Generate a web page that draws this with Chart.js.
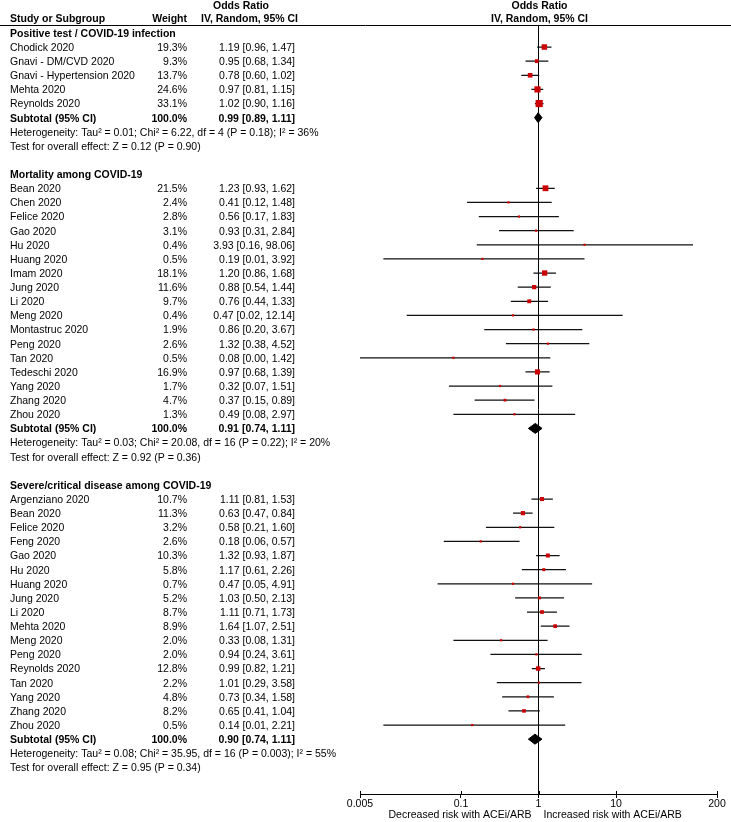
<!DOCTYPE html>
<html>
<head>
<meta charset="utf-8">
<script src="https://cdn.jsdelivr.net/npm/chart.js@4.4.0/dist/chart.umd.min.js"></script>
<style>
html,body{margin:0;padding:0;background:#fff;}
#wrap{width:731px;height:822px;position:relative;}
</style>
</head>
<body>
<div id="wrap"><canvas id="c" width="731" height="822"></canvas></div>
<script>
// ---------- DATA ----------
const sectionTitles = ['Positive test / COVID-19 infection', 'Mortality among COVID-19', 'Severe/critical disease among COVID-19'];

const posStudies = ['Chodick 2020', 'Gnavi - DM/CVD 2020', 'Gnavi - Hypertension 2020', 'Mehta 2020', 'Reynolds 2020'];
const posWeights = [19.3, 9.3, 13.7, 24.6, 33.1];
const posOR   = [1.19, 0.95, 0.78, 0.97, 1.02];
const posLow  = [0.96, 0.68, 0.60, 0.81, 0.90];
const posHigh = [1.47, 1.34, 1.02, 1.15, 1.16];

const mortStudies = ['Bean 2020', 'Chen 2020', 'Felice 2020', 'Gao 2020', 'Hu 2020', 'Huang 2020', 'Imam 2020', 'Jung 2020', 'Li 2020', 'Meng 2020', 'Montastruc 2020', 'Peng 2020', 'Tan 2020', 'Tedeschi 2020', 'Yang 2020', 'Zhang 2020', 'Zhou 2020'];
const mortWeights = [21.5, 2.4, 2.8, 3.1, 0.4, 0.5, 18.1, 11.6, 9.7, 0.4, 1.9, 2.6, 0.5, 16.9, 1.7, 4.7, 1.3];
const mortOR   = [1.23, 0.41, 0.56, 0.93, 3.93, 0.19, 1.20, 0.88, 0.76, 0.47, 0.86, 1.32, 0.08, 0.97, 0.32, 0.37, 0.49];
const mortLow  = [0.93, 0.12, 0.17, 0.31, 0.16, 0.01, 0.86, 0.54, 0.44, 0.02, 0.20, 0.38, 0.004, 0.68, 0.07, 0.15, 0.08];
const mortHigh = [1.62, 1.48, 1.83, 2.84, 98.06, 3.92, 1.68, 1.44, 1.33, 12.14, 3.67, 4.52, 1.42, 1.39, 1.51, 0.89, 2.97];

const sevStudies = ['Argenziano 2020', 'Bean 2020', 'Felice 2020', 'Feng 2020', 'Gao 2020', 'Hu 2020', 'Huang 2020', 'Jung 2020', 'Li 2020', 'Mehta 2020', 'Meng 2020', 'Peng 2020', 'Reynolds 2020', 'Tan 2020', 'Yang 2020', 'Zhang 2020', 'Zhou 2020'];
const sevWeights = [10.7, 11.3, 3.2, 2.6, 10.3, 5.8, 0.7, 5.2, 8.7, 8.9, 2.0, 2.0, 12.8, 2.2, 4.8, 8.2, 0.5];
const sevOR   = [1.11, 0.63, 0.58, 0.18, 1.32, 1.17, 0.47, 1.03, 1.11, 1.64, 0.33, 0.94, 0.99, 1.01, 0.73, 0.65, 0.14];
const sevLow  = [0.81, 0.47, 0.21, 0.06, 0.93, 0.61, 0.05, 0.50, 0.71, 1.07, 0.08, 0.24, 0.82, 0.29, 0.34, 0.41, 0.01];
const sevHigh = [1.53, 0.84, 1.60, 0.57, 1.87, 2.26, 4.91, 2.13, 1.73, 2.51, 1.31, 3.61, 1.21, 3.58, 1.58, 1.04, 2.21];

const subWeights = [100.0, 100.0, 100.0];
const subOR   = [0.99, 0.91, 0.90];
const subLow  = [0.89, 0.74, 0.74];
const subHigh = [1.11, 1.11, 1.11];

const hetTexts = [
  'Heterogeneity: Tau\u00B2 = 0.01; Chi\u00B2 = 6.22, df = 4 (P = 0.18); I\u00B2 = 36%',
  'Heterogeneity: Tau\u00B2 = 0.03; Chi\u00B2 = 20.08, df = 16 (P = 0.22); I\u00B2 = 20%',
  'Heterogeneity: Tau\u00B2 = 0.08; Chi\u00B2 = 35.95, df = 16 (P = 0.003); I\u00B2 = 55%'
];
const overallTexts = [
  'Test for overall effect: Z = 0.12 (P = 0.90)',
  'Test for overall effect: Z = 0.92 (P = 0.36)',
  'Test for overall effect: Z = 0.95 (P = 0.34)'
];

const xTicks = [0.005, 0.1, 1, 10, 200];
const headerLeft = ['Study or Subgroup', 'Weight', 'Odds Ratio', 'IV, Random, 95% CI'];
const headerRight = ['Odds Ratio', 'IV, Random, 95% CI'];
const axisLabels = ['Decreased risk with ACEi/ARB', 'Increased risk with ACEi/ARB'];

// ---------- BUILD ROWS ----------
const sections = [
  {studies: posStudies, w: posWeights, or: posOR, lo: posLow, hi: posHigh},
  {studies: mortStudies, w: mortWeights, or: mortOR, lo: mortLow, hi: mortHigh},
  {studies: sevStudies, w: sevWeights, or: sevOR, lo: sevLow, hi: sevHigh}
];
const rows = [];
let r = 0;
sections.forEach((s, si) => {
  rows.push({type: 'title', row: r, text: sectionTitles[si]});
  s.studies.forEach((name, i) => {
    r++;
    rows.push({type: 'study', row: r, name, w: s.w[i], or: s.or[i], lo: s.lo[i], hi: s.hi[i]});
  });
  r++; rows.push({type: 'sub', row: r, w: subWeights[si], or: subOR[si], lo: subLow[si], hi: subHigh[si]});
  r++; rows.push({type: 'het', row: r, text: hetTexts[si]});
  r++; rows.push({type: 'test', row: r, text: overallTexts[si]});
  r += 2;
});

const fmtCI = (o, l, h) => o.toFixed(2) + ' [' + l.toFixed(2) + ', ' + h.toFixed(2) + ']';

const studyRows = rows.filter(d => d.type === 'study');
const subRows = rows.filter(d => d.type === 'sub');

const pointData = studyRows.map(d => ({x: d.or, y: d.row}));
const pointSize = studyRows.map(d => Math.max(2.2, 1.25 * Math.sqrt(d.w)) / Math.SQRT2);
const ciData = [];
studyRows.forEach(d => { ciData.push({x: d.lo, y: d.row}, {x: d.hi, y: d.row}, {x: 1, y: null}); });

const DIAMOND_H = 0.354;
const diamondSets = subRows.map(d => ({
  type: 'scatter',
  data: [{x: d.lo, y: d.row}, {x: d.or, y: d.row - DIAMOND_H}, {x: d.hi, y: d.row}, {x: d.or, y: d.row + DIAMOND_H}, {x: d.lo, y: d.row}],
  showLine: true, fill: 'shape', backgroundColor: '#000', borderColor: '#000', borderWidth: 1,
  pointRadius: 0, tension: 0
}));

// ---------- TEXT PLUGIN ----------
const FONT = '"Liberation Sans", Arial, sans-serif';
const FS = 10.5;
const textPlugin = {
  id: 'forestText',
  afterDraw(chart) {
    const ctx = chart.ctx;
    const y = chart.scales.y;
    const x = chart.scales.x;
    ctx.save();
    ctx.fillStyle = '#000';
    ctx.textBaseline = 'middle';
    const reg = FS + 'px ' + FONT;
    const bold = 'bold ' + FS + 'px ' + FONT;
    // header
    ctx.font = bold;
    ctx.textAlign = 'left'; ctx.fillText(headerLeft[0], 10, 19);
    ctx.textAlign = 'right'; ctx.fillText(headerLeft[1], 187, 19);
    ctx.textAlign = 'center'; ctx.fillText(headerLeft[2], 241, 6); ctx.fillText(headerLeft[3], 249.5, 19);
    const cx = x.getPixelForValue(1);
    ctx.fillText(headerRight[0], cx + 1, 6); ctx.fillText(headerRight[1], cx + 1, 19);
    // header rule
    ctx.strokeStyle = '#000'; ctx.lineWidth = 1;
    ctx.beginPath(); ctx.moveTo(0, 25.5); ctx.lineTo(731, 25.5); ctx.stroke();
    // rows
    rows.forEach(d => {
      const py = y.getPixelForValue(d.row) + 1;
      if (d.type === 'title') {
        ctx.font = bold; ctx.textAlign = 'left'; ctx.fillText(d.text, 10, py);
      } else if (d.type === 'study') {
        ctx.font = reg; ctx.textAlign = 'left'; ctx.fillText(d.name, 10, py);
        ctx.textAlign = 'right'; ctx.fillText(d.w.toFixed(1) + '%', 187, py);
        ctx.fillText(fmtCI(d.or, d.lo, d.hi), 295, py);
      } else if (d.type === 'sub') {
        ctx.font = bold; ctx.textAlign = 'left'; ctx.fillText('Subtotal (95% CI)', 10, py);
        ctx.textAlign = 'right'; ctx.fillText(d.w.toFixed(1) + '%', 187, py);
        ctx.fillText(fmtCI(d.or, d.lo, d.hi), 295, py);
      } else {
        ctx.font = reg; ctx.textAlign = 'left'; ctx.fillText(d.text, 10, py);
      }
    });
    // small tick marks above axis
    const ay = chart.chartArea.bottom;
    ctx.beginPath();
    xTicks.forEach(v => { const px = Math.round(x.getPixelForValue(v)) + 0.5; ctx.moveTo(px, ay - 3); ctx.lineTo(px, ay); });
    ctx.stroke();
    // axis direction labels
    ctx.font = reg;
    ctx.textAlign = 'right'; ctx.fillText(axisLabels[0], cx - 7, 815);
    ctx.textAlign = 'left'; ctx.fillText(axisLabels[1], cx + 5, 815);
    ctx.restore();
  }
};

// ---------- CHART ----------
new Chart(document.getElementById('c'), {
  type: 'scatter',
  data: {
    datasets: [
      {data: pointData, pointStyle: 'rect', pointRadius: pointSize, pointHoverRadius: pointSize,
       backgroundColor: '#cc0000', borderColor: '#cc0000', borderWidth: 0, showLine: false},
      {data: ciData, showLine: true, spanGaps: false, borderColor: '#111', borderWidth: 1.2, pointRadius: 0, pointHoverRadius: 0},
      ...diamondSets
    ]
  },
  options: {
    responsive: false,
    devicePixelRatio: 1,
    animation: false,
    events: [],
    layout: {padding: {left: 360, right: 14, top: 25, bottom: 0}},
    plugins: {legend: {display: false}, tooltip: {enabled: false}, title: {display: false}},
    scales: {
      x: {
        type: 'logarithmic',
        min: 0.005, max: 200,
        afterBuildTicks: (s) => { s.ticks = xTicks.map(v => ({value: v})); },
        afterFit: (s) => { s.height = 28; },
        ticks: {
          autoSkip: false, maxRotation: 0, padding: 0,
          color: '#000', font: {family: FONT, size: FS},
          callback: (v) => String(v)
        },
        grid: {
          drawOnChartArea: true,
          color: (c) => (c.tick && c.tick.value === 1) ? '#000' : 'rgba(0,0,0,0)',
          tickColor: '#000', tickLength: 4, lineWidth: 1
        },
        border: {display: true, color: '#000', width: 1}
      },
      y: {
        type: 'linear', display: false, reverse: true,
        min: -0.5593, max: 53.883
      }
    }
  },
  plugins: [textPlugin]
});
</script>
</body>
</html>
